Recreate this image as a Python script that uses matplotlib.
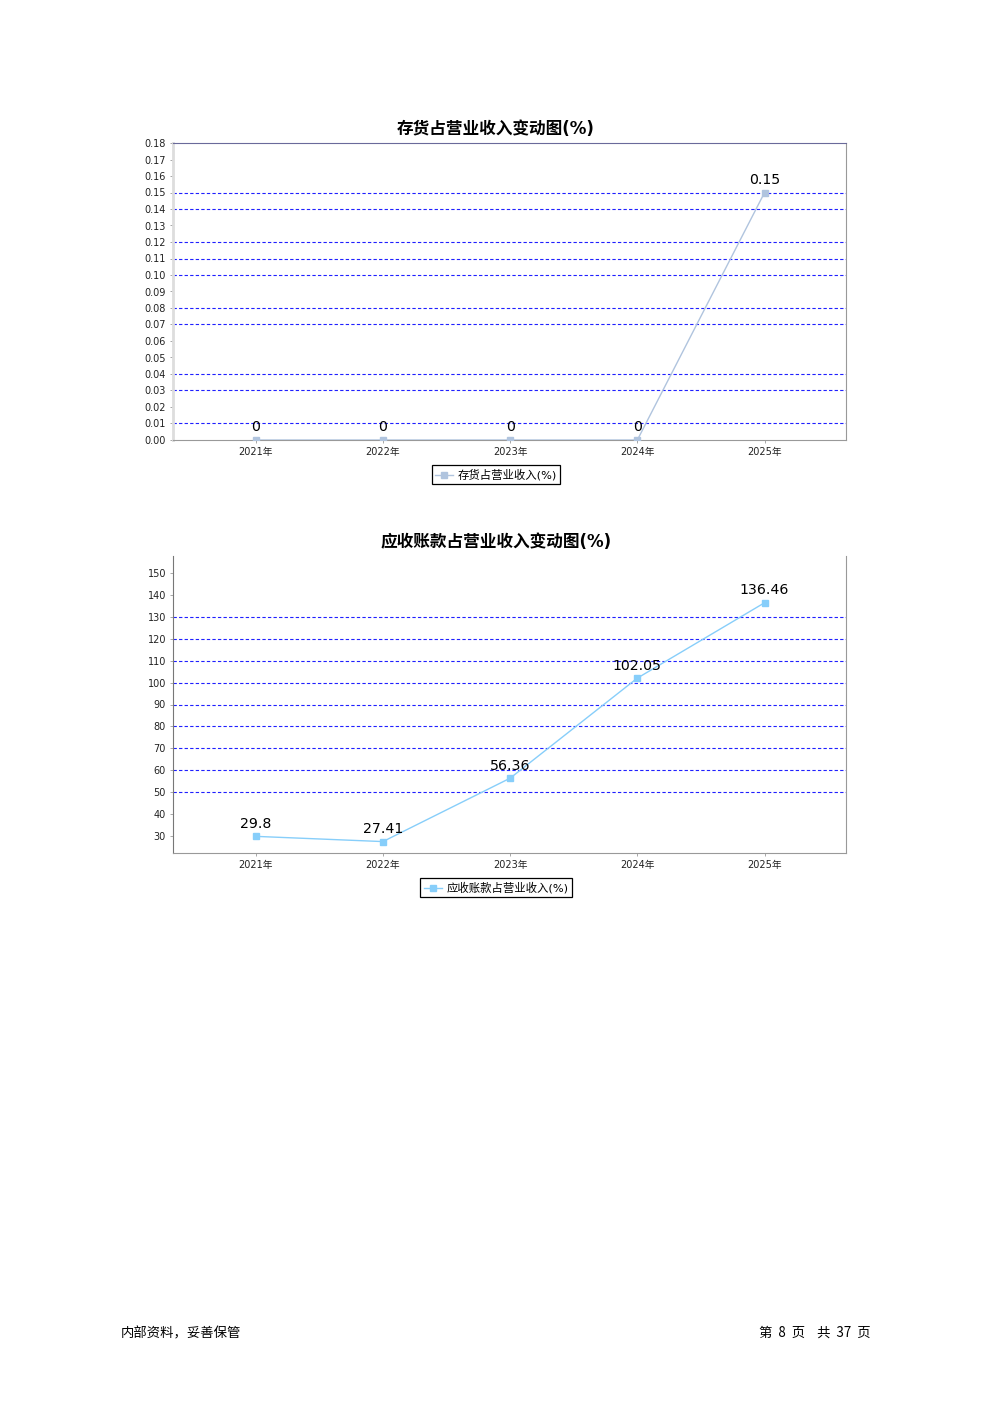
import numpy as np
import matplotlib
matplotlib.use("Agg")
from matplotlib import pyplot as plt

plt.rcParams['font.family'] = ['DejaVu Sans', 'Noto Sans CJK SC']

years = ['2021年', '2022年', '2023年', '2024年', '2025年']

# chart 1: inventory / revenue
inv_pct = [0, 0, 0, 0, 0.15]
inv_ticks = [0.00, 0.01, 0.02, 0.03, 0.04, 0.05, 0.06, 0.07, 0.08, 0.09,
             0.10, 0.11, 0.12, 0.13, 0.14, 0.15, 0.16, 0.17, 0.18]
inv_grid = [0.01, 0.03, 0.04, 0.07, 0.08, 0.10, 0.11, 0.12, 0.14, 0.15]

# chart 2: receivables / revenue
ar_pct = [29.8, 27.41, 56.36, 102.05, 136.46]
ar_ticks = [30, 40, 50, 60, 70, 80, 90, 100, 110, 120, 130, 140, 150]
ar_grid = [50, 60, 70, 80, 90, 100, 110, 120, 130]

fig = plt.figure(figsize=(9.92, 14.03), dpi=100)


def draw(ax, vals, ticks, grid, ylim, color, name, fmt, lab_fmt):
    x = np.arange(len(years))
    for g in grid:
        ax.axhline(g, color='#2020ff', lw=0.8, ls=(0, (3, 2)), zorder=1)
    ax.plot(x, vals, color=color, lw=1.0, marker='s', ms=5,
            mec=color, mfc=color, label=name, zorder=3)
    for xi, v in zip(x, vals):
        ax.annotate(lab_fmt(v), (xi, v), xytext=(0, 4), textcoords='offset points',
                    ha='center', va='bottom', fontsize=10.2, color='black')
    ax.set_xlim(-0.65, 4.64)
    ax.set_ylim(*ylim)
    ax.set_xticks(x)
    ax.set_xticklabels(years, fontsize=7, color='#222222')
    ax.set_yticks(ticks)
    ax.set_yticklabels([fmt(t) for t in ticks], fontsize=7, color='#222222')
    ax.tick_params(length=2, width=0.6, color='#999999', pad=3)
    leg = ax.legend(loc='center', bbox_to_anchor=(0.48, -0.117), fontsize=8.2,
                    frameon=True, fancybox=False, framealpha=1,
                    handlelength=1.6, handletextpad=0.4, borderpad=0.3,
                    markerscale=0.8)
    leg.get_frame().set_edgecolor('black')
    leg.get_frame().set_linewidth(0.9)


ax1 = fig.add_axes([173 / 992, 1 - 440 / 1403, 673 / 992, 297 / 1403])
draw(ax1, inv_pct, inv_ticks, inv_grid, (0, 0.18), '#b0c4de', '存货占营业收入(%)',
     lambda t: '%.2f' % t, lambda v: '%g' % v)
for s in ['top', 'right', 'bottom']:
    ax1.spines[s].set_color('#999999')
ax1.spines['top'].set_color('#6a6a9a')
ax1.spines['left'].set_color('#dddddd')
ax1.spines['left'].set_linewidth(2)

ax2 = fig.add_axes([173 / 992, 1 - 853 / 1403, 673 / 992, 297 / 1403])
draw(ax2, ar_pct, ar_ticks, ar_grid, (22.2, 157.8), '#87cefa', '应收账款占营业收入(%)',
     lambda t: '%d' % t, lambda v: '%g' % v)
ax2.spines['top'].set_visible(False)
for s in ['left', 'right', 'bottom']:
    ax2.spines[s].set_color('#999999')
ax2.spines['left'].set_color('#777777')

fig.text(0.5, 1 - 129 / 1403, '存货占营业收入变动图(%)', ha='center', va='center',
         fontsize=12, fontweight='bold')
fig.text(0.5, 1 - 542 / 1403, '应收账款占营业收入变动图(%)', ha='center', va='center',
         fontsize=12, fontweight='bold')

fig.text(121 / 992, 1 - 1333 / 1403, '内部资料，妥善保管', ha='left', va='center', fontsize=9.6,
         family=['Noto Sans CJK SC'])
fig.text(871 / 992, 1 - 1333 / 1403, '第  8  页    共  37  页', ha='right', va='center',
         fontsize=9.6, family=['Noto Sans CJK SC'])

fig.savefig('out.png', dpi=100)
